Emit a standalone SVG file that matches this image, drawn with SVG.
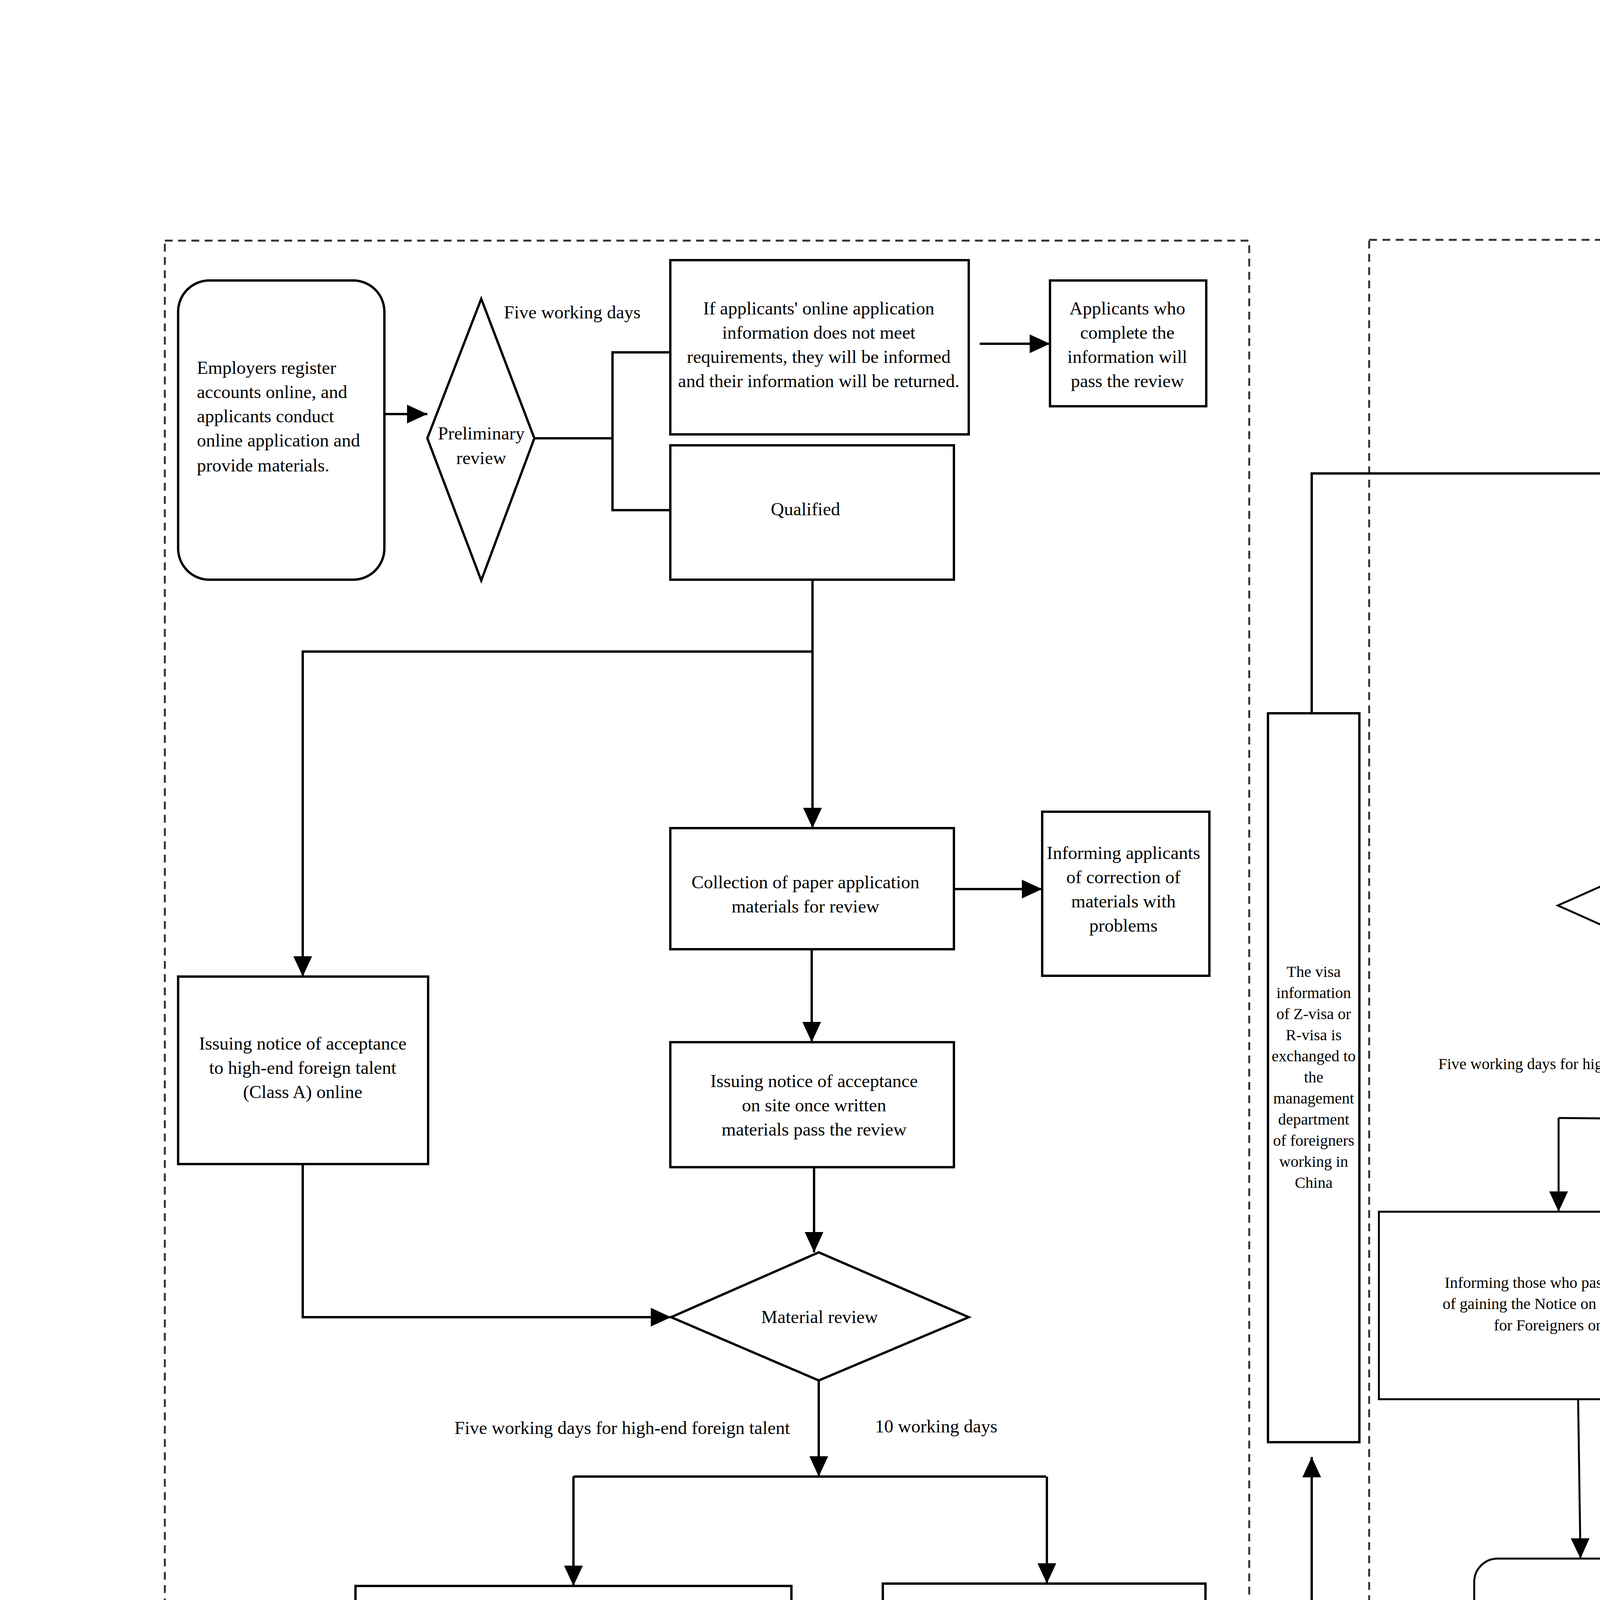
<svg xmlns="http://www.w3.org/2000/svg" width="6250" height="5187" viewBox="0 0 6250 5187">
<style>
.frame{fill:none;stroke:#333;stroke-width:5;stroke-dasharray:20 14}
.bl{fill:#fff;stroke:#000;stroke-width:6}
.br{fill:#fff;stroke:#000;stroke-width:5}
.cl{fill:none;stroke:#000;stroke-width:6}
.cr{fill:none;stroke:#000;stroke-width:5}
.a{marker-end:url(#ah)}
text{font-family:"Liberation Serif","Times New Roman",serif;fill:#000}
.tl{font-size:47px;text-anchor:middle}
.tll{font-size:47px;text-anchor:start}
.tr{font-size:40.5px;text-anchor:middle}
.trl{font-size:40.5px;text-anchor:start}
.cap{font-size:46px;text-anchor:middle}
</style>
<defs>
<marker id="ah" markerUnits="userSpaceOnUse" markerWidth="52" markerHeight="48" refX="52" refY="24" orient="auto-start-reverse">
<path d="M0,0 L52,24 L0,48 Z" fill="#000"/>
</marker>
</defs>
<rect width="6250" height="5187" fill="#fff"/>
<g id="frames">
<rect class="frame" x="422" y="616" width="2776" height="4174"/>
<rect class="frame" x="3505" y="614" width="2295" height="4176"/>
</g>
<g id="connectors">
<path class="cl a" d="M982,1060 H1094"/>
<path class="cl" d="M1368,1122 H1568"/>
<path class="cl" d="M1716,902 H1568 V1306 H1716"/>
<path class="cl a" d="M2508,880 H2688"/>
<path class="cl a" d="M2080,1484 V2120"/>
<path class="cl a" d="M2080,1668 H775 V2500"/>
<path class="cl a" d="M2442,2276 H2668"/>
<path class="cl a" d="M2078,2430 V2668"/>
<path class="cl a" d="M2084,2988 V3206"/>
<path class="cl a" d="M775,2980 V3372 H1718"/>
<path class="cl a" d="M2096,3534 V3780"/>
<path class="cl" d="M1468,3780 H2678"/>
<path class="cl a" d="M1468,3780 V4060"/>
<path class="cl a" d="M2680,3780 V4054"/>
<path class="cl a" d="M1468,4406 V4590 H2186"/>
<path class="cl a" d="M2876,4590 H3358 V3730"/>
<path class="cl a" d="M3358,1826 V1212 H4168"/>
<path class="cr a" d="M4526,1542 V2077"/>
<path class="cr a" d="M4878,1230 H5432 V1480"/>
<path class="cr a" d="M5432,1954 V2318 H5074"/>
<path class="cr a" d="M4532,2561 V2866"/>
<path class="cr" d="M3990,2862 L5118,2872"/>
<path class="cr a" d="M3990,2862 V3102"/>
<path class="cr a" d="M5118,2872 V3102"/>
<path class="cr a" d="M4040,3582 L4046,3990"/>
<path class="cr" d="M4330,4182 L4876,4172" marker-start="url(#ah)" marker-end="url(#ah)"/>
</g>
<g id="n-start">
<rect class="bl" x="456" y="718" width="528" height="766" rx="80" ry="80"/>
<text class="tll"><tspan x="504" y="957">Employers register</tspan><tspan x="504" y="1019">accounts online, and</tspan><tspan x="504" y="1081">applicants conduct</tspan><tspan x="504" y="1143">online application and</tspan><tspan x="504" y="1207">provide materials.</tspan></text>
</g>
<g id="n-prelim">
<polygon class="bl" points="1232,765 1368,1122 1232,1486 1094,1122"/>
<text class="tl"><tspan x="1232" y="1125">Preliminary</tspan><tspan x="1232" y="1188">review</tspan></text>
</g>
<g id="l-five">
<text class="tll" x="1290" y="815">Five working days</text>
</g>
<g id="n-notmeet">
<rect class="bl" x="1716" y="666" width="764" height="446"/>
<text class="tl"><tspan x="2096" y="805">If applicants' online application</tspan><tspan x="2096" y="867">information does not meet</tspan><tspan x="2096" y="929">requirements, they will be informed</tspan><tspan x="2096" y="991">and their information will be returned.</tspan></text>
</g>
<g id="n-complete">
<rect class="bl" x="2688" y="718" width="400" height="322"/>
<text class="tl"><tspan x="2886" y="805">Applicants who</tspan><tspan x="2886" y="867">complete the</tspan><tspan x="2886" y="929">information will</tspan><tspan x="2886" y="991">pass the review</tspan></text>
</g>
<g id="n-qualified">
<rect class="bl" x="1716" y="1140" width="726" height="344"/>
<text class="tl" x="2062" y="1319">Qualified</text>
</g>
<g id="n-collection">
<rect class="bl" x="1716" y="2120" width="726" height="310"/>
<text class="tl"><tspan x="2062" y="2274">Collection of paper application</tspan><tspan x="2062" y="2336">materials for review</tspan></text>
</g>
<g id="n-correction">
<rect class="bl" x="2668" y="2078" width="428" height="420"/>
<text class="tl"><tspan x="2876" y="2199">Informing applicants</tspan><tspan x="2876" y="2261">of correction of</tspan><tspan x="2876" y="2323">materials with</tspan><tspan x="2876" y="2385">problems</tspan></text>
</g>
<g id="n-classa">
<rect class="bl" x="456" y="2500" width="640" height="480"/>
<text class="tl"><tspan x="775" y="2687">Issuing notice of acceptance</tspan><tspan x="775" y="2749">to high-end foreign talent</tspan><tspan x="775" y="2811">(Class A) online</tspan></text>
</g>
<g id="n-onsite">
<rect class="bl" x="1716" y="2668" width="726" height="320"/>
<text class="tl"><tspan x="2084" y="2783">Issuing notice of acceptance</tspan><tspan x="2084" y="2845">on site once written</tspan><tspan x="2084" y="2907">materials pass the review</tspan></text>
</g>
<g id="n-review-left">
<polygon class="bl" points="2096,3206 2480,3372 2096,3534 1718,3372"/>
<text class="tl" x="2098" y="3387">Material review</text>
</g>
<g id="l-left-days">
<text class="tl" x="1593" y="3671">Five working days for high-end foreign talent</text>
<text class="tll" x="2240" y="3667">10 working days</text>
</g>
<g id="n-print">
<rect class="bl" x="910" y="4060" width="1116" height="346"/>
<text class="tl"><tspan x="1436" y="4209">Those who pass the review print the Notice</tspan><tspan x="1436" y="4271">on Work Permit for Foreigners online</tspan></text>
</g>
<g id="n-notpass-left">
<rect class="bl" x="2260" y="4054" width="826" height="348"/>
<text class="tl"><tspan x="2689" y="4183">Informing those who don't</tspan><tspan x="2689" y="4245">pass the review of reasons for</tspan><tspan x="2689" y="4307">not issuing the notice</tspan></text>
</g>
<g id="n-diplomatic">
<rect class="bl" x="2186" y="4428" width="690" height="328"/>
<text class="tl"><tspan x="2524" y="4589">Exchanging the notice to the</tspan><tspan x="2524" y="4652">diplomatic department</tspan></text>
</g>
<g id="n-visa">
<rect class="bl" x="3246" y="1826" width="234" height="1866"/>
<text class="tr"><tspan x="3363" y="2501">The visa</tspan><tspan x="3363" y="2555">information</tspan><tspan x="3363" y="2609">of Z-visa or</tspan><tspan x="3363" y="2663">R-visa is</tspan><tspan x="3363" y="2717">exchanged to</tspan><tspan x="3363" y="2771">the</tspan><tspan x="3363" y="2825">management</tspan><tspan x="3363" y="2879">department</tspan><tspan x="3363" y="2933">of foreigners</tspan><tspan x="3363" y="2987">working in</tspan><tspan x="3363" y="3041">China</tspan></text>
</g>
<g id="n-apply">
<rect class="br" x="4168" y="914" width="674" height="628"/>
<text class="tr"><tspan x="4500" y="1152">Applicants should apply for</tspan><tspan x="4500" y="1205">work permits online within 15</tspan><tspan x="4500" y="1260">days after entering China and</tspan><tspan x="4500" y="1314">submit paper materials</tspan></text>
</g>
<g id="n-selected">
<rect class="br" x="5118" y="1480" width="632" height="474"/>
<text class="tr"><tspan x="5434" y="1647">Those who are selected for</tspan><tspan x="5434" y="1702">relevant domestic talent</tspan><tspan x="5434" y="1755">programs do not need to</tspan><tspan x="5434" y="1810">submit paper materials</tspan></text>
</g>
<g id="n-review-right">
<polygon class="br" points="4532,2077 5074,2318 4532,2561 3988,2318"/>
<text class="tr" x="4535" y="2329">Material review</text>
</g>
<g id="l-right-days">
<text class="tr" x="4052" y="2737">Five working days for high-end foreign talent</text>
<text class="trl" x="4688" y="2737">10 working days</text>
</g>
<g id="n-pass-right">
<rect class="br" x="3530" y="3102" width="998" height="480"/>
<text class="tr"><tspan x="3998" y="3297">Informing those who pass the review</tspan><tspan x="3998" y="3351">of gaining the Notice on Work Permit</tspan><tspan x="3998" y="3406">for Foreigners on site</tspan></text>
</g>
<g id="n-notpass-right">
<rect class="br" x="4760" y="3102" width="928" height="438"/>
<text class="tr"><tspan x="5230" y="3315">Informing those who don't pass the review</tspan><tspan x="5230" y="3370">of reasons for not issuing the notice</tspan></text>
</g>
<g id="n-completion">
<rect class="br" x="3774" y="3990" width="556" height="382" rx="60" ry="60"/>
<text class="tr" x="4030" y="4190">Completion of review</text>
</g>
<g id="n-security">
<rect class="br" x="4876" y="3990" width="776" height="356"/>
<text class="tr"><tspan x="5258" y="4128">Exchanging the permit information to public</tspan><tspan x="5258" y="4183">security authorities and giving feedback</tspan><tspan x="5258" y="4238">about information concerning residence</tspan></text>
</g>
<g id="captions">
<text class="cap" x="1862" y="4987">The Notice on Work Permit for Foreigners</text>
<text class="cap" x="4820" y="4985">Work Permit for Foreigners</text>
</g>
</svg>
